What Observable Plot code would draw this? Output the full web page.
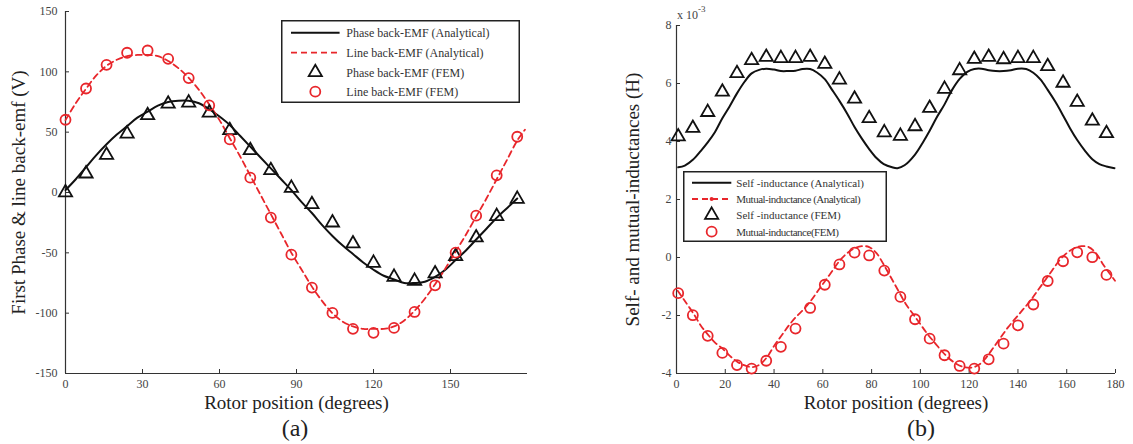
<!DOCTYPE html>
<html>
<head>
<meta charset="utf-8">
<script src="https://cdn.jsdelivr.net/npm/d3@7"></script>
<script src="https://cdn.jsdelivr.net/npm/@observablehq/plot@0.6"></script>
<style>
  html, body { margin: 0; padding: 0; background: #fff; }
  #root { position: relative; width: 1133px; height: 444px; overflow: hidden;
          font-family: "Liberation Serif", "Times New Roman", serif; color: #222; }
  .panel { position: absolute; top: 0; }
  .cap { position: absolute; top: 415px; height: 26px; line-height: 26px; font-size: 24px;
         text-align: center; width: 60px; color: #222; }
  .exp { position: absolute; left: 677px; top: 6px; font-size: 12px; color: #444; }
  .exp sup { font-size: 9px; position: relative; top: -2px; }
  .legend { position: absolute; }
</style>
</head>
<body>
<div id="root"></div>
<script>
// ---------------- Panel (a): back-EMF ----------------
const xTicksA = [0, 30, 60, 90, 120, 150];
const yTicksA = [-150, -100, -50, 0, 50, 100, 150];

const femXA = [0, 8, 16, 24, 32, 40, 48, 56, 64, 72, 80, 88, 96, 104, 112, 120, 128, 136, 144, 152, 160, 168, 176];
const phaseFemA = [0, 15.6, 31, 48.7, 63.9, 73.5, 74.4, 66, 51.5, 34.9, 18.4, 3.7, -9.8, -25, -42.4, -58.4, -70, -73.3, -67.2, -52.9, -37.4, -19.7, -5.4];
const lineFemA = [60.3, 86.2, 105.8, 115.8, 117.7, 110.8, 94.8, 72.2, 44, 12.3, -20.8, -51.5, -78.8, -99.8, -113, -116.3, -112.2, -99, -76.9, -49.8, -19.2, 14.2, 46.2];

const phaseAnaXA = [0, 4, 8, 12, 16, 20, 24, 28, 32, 36, 40, 44, 48, 52, 56, 60, 64, 68, 72, 76, 80, 84, 88, 92, 96, 100, 104, 108, 112, 116, 120, 124, 128, 132, 136, 140, 144, 148, 152, 156, 160, 164, 168, 172, 176];
const phaseAnaA = [2, 11, 21, 31, 40, 48, 55, 62, 67, 72, 75, 76, 76, 74, 69, 63, 56, 47, 38, 29, 20, 11, 2, -8, -17, -27, -36, -44, -51, -58, -64, -69, -72, -75, -75, -74, -70, -64, -56, -48, -39, -30, -21, -13, -5];

const lineAnaXA = [0, 4, 8, 12, 16, 20, 24, 28, 32, 36, 40, 44, 48, 52, 56, 60, 64, 68, 72, 76, 80, 84, 88, 92, 96, 100, 104, 108, 112, 116, 120, 124, 128, 132, 136, 140, 144, 148, 152, 156, 160, 164, 168, 172, 176, 179];
const lineAnaA = [60, 74, 86, 97, 105, 110, 113, 114, 114, 113, 109, 103, 95, 85, 73, 60, 45, 30, 14, -2, -18, -34, -50, -64, -78, -90, -100, -107, -111, -113, -113, -113, -111, -106, -98, -88, -76, -63, -49, -35, -20, -5, 11, 27, 43, 52];

const legendA = ["Phase back-EMF (Analytical)", "Line back-EMF (Analytical)", "Phase back-EMF (FEM)", "Line back-EMF (FEM)"];
const xLabel = "Rotor position (degrees)";
const yLabelA = "First Phase & line back-emf (V)";

// ---------------- Panel (b): inductances (x 10^-3 H) ----------------
const xTicksB = [0, 20, 40, 60, 80, 100, 120, 140, 160, 180];
const yTicksB = [-4, -2, 0, 2, 4, 6, 8];

const femXB = [0.7, 6.7, 12.8, 18.8, 24.8, 30.8, 36.8, 42.8, 48.8, 54.8, 60.8, 66.8, 73.0, 79.0, 85.2, 91.8, 97.8, 103.8, 109.9, 116.1, 122.1, 128.0, 134.1, 140.0, 146.3, 152.2, 158.5, 164.3, 170.5, 176.3];
const selfFemB = [4.17, 4.46, 5.01, 5.71, 6.35, 6.80, 6.91, 6.87, 6.87, 6.91, 6.67, 6.13, 5.47, 4.80, 4.31, 4.19, 4.52, 5.15, 5.81, 6.45, 6.84, 6.91, 6.83, 6.87, 6.87, 6.59, 6.02, 5.36, 4.71, 4.28];
const mutualFemB = [-1.23, -1.99, -2.70, -3.29, -3.71, -3.83, -3.56, -3.08, -2.45, -1.74, -0.94, -0.24, 0.17, 0.07, -0.45, -1.36, -2.13, -2.80, -3.37, -3.74, -3.83, -3.51, -2.97, -2.34, -1.62, -0.81, -0.13, 0.18, 0.01, -0.60];

const selfAnaXB = [0.7, 3.4, 6.7, 10, 12.8, 15.8, 18.8, 21.7, 24.8, 27.9, 30.8, 33.9, 36.8, 40, 42.8, 45.9, 48.8, 51.7, 54.8, 57.6, 60.8, 63.8, 66.8, 70, 73, 76, 79, 82, 85, 88.4, 90.6, 93.5, 97.8, 100.9, 103.8, 106.9, 109.9, 113, 116.1, 119.2, 122.1, 125, 128, 130.9, 134.1, 137.1, 140, 143.4, 146.3, 149.2, 152.2, 155.4, 158.5, 161.4, 164.3, 167.5, 170.5, 173.4, 176.3, 179.6];
const selfAnaB = [3.11, 3.17, 3.37, 3.68, 3.97, 4.33, 4.8, 5.2, 5.66, 6.06, 6.35, 6.47, 6.51, 6.48, 6.43, 6.43, 6.44, 6.5, 6.5, 6.38, 6.15, 5.78, 5.4, 4.96, 4.5, 4.1, 3.74, 3.43, 3.22, 3.11, 3.08, 3.18, 3.55, 3.95, 4.37, 4.86, 5.28, 5.78, 6.16, 6.4, 6.5, 6.51, 6.46, 6.43, 6.43, 6.46, 6.51, 6.5, 6.37, 6.14, 5.78, 5.36, 4.9, 4.45, 4.05, 3.68, 3.39, 3.22, 3.14, 3.08];

const mutualAnaXB = [0.5, 3, 6.7, 10, 12.8, 16, 19, 22, 25, 28, 31, 34, 37, 40, 43, 46, 49, 52, 55, 58, 61, 64, 67, 70, 73, 76, 79, 82, 85, 88, 91, 94, 97, 100, 103, 106, 109, 112, 115, 118, 121, 124, 127, 130, 133, 136, 139, 142, 145, 148, 151, 154, 157, 160, 163, 166, 169, 172, 175, 178, 179.8];
const mutualAnaB = [-1.15, -1.45, -1.9, -2.35, -2.65, -2.95, -3.15, -3.4, -3.6, -3.72, -3.78, -3.7, -3.45, -3.05, -2.7, -2.35, -2.05, -1.8, -1.5, -1.15, -0.8, -0.45, -0.1, 0.15, 0.32, 0.39, 0.36, 0.15, -0.25, -0.7, -1.15, -1.6, -1.95, -2.3, -2.65, -2.95, -3.25, -3.5, -3.68, -3.78, -3.8, -3.7, -3.45, -3.1, -2.75, -2.4, -2.1, -1.8, -1.5, -1.15, -0.8, -0.45, -0.1, 0.15, 0.32, 0.39, 0.36, 0.15, -0.25, -0.6, -0.8];

const legendB = ["Self -inductance (Analytical)", "Mutual-inductance (Analytical)", "Self -inductance (FEM)", "Mutual-inductance(FEM)"];
const yLabelB = "Self- and mutual-inductances (H)";

// ---------------- helpers ----------------
const RED = "#e8262b";
const BLACK = "#111";
const AXIS = "#333";
const FONT = "Liberation Serif, Times New Roman, serif";
const zip = (xs, ys) => xs.map((x, i) => ({x, y: ys[i]}));
const fmt = d => String(d); // plain hyphen-minus, as in the reference

function panel({width, height, mL, mR, mT, mB, xDom, yDom, xTicks, yTicks, yPad, series, yLabel, yLabelDx}) {
  const fw = width - mL - mR, fh = height - mT - mB;
  return Plot.plot({
    width, height, marginLeft: mL, marginRight: mR, marginTop: mT, marginBottom: mB,
    style: {fontFamily: FONT, fontSize: "12px", color: "#444", background: "transparent", overflow: "visible"},
    x: {domain: xDom, label: null},
    y: {domain: yDom, label: null},
    marks: [
      Plot.axisX({ticks: xTicks, tickFormat: fmt, tickSize: 0, tickPadding: 6, label: null, fontSize: 12, fill: "#444"}),
      Plot.axisY({ticks: yTicks, tickFormat: fmt, tickSize: 0, tickPadding: yPad, label: null, fontSize: 12, fill: "#444"}),
      Plot.tickX(xTicks, {x: d => d, insetTop: fh - 4, stroke: AXIS, strokeWidth: 1}),
      Plot.tickY(yTicks, {y: d => d, insetRight: fw - 4, stroke: AXIS, strokeWidth: 1}),
      Plot.ruleX([xDom[0]], {stroke: AXIS, strokeWidth: 1.2}),
      Plot.ruleY([yDom[0]], {stroke: AXIS, strokeWidth: 1.2}),
      Plot.line(series.solid, {x: "x", y: "y", stroke: BLACK, strokeWidth: 2, curve: "catmull-rom"}),
      Plot.line(series.dashed, {x: "x", y: "y", stroke: RED, strokeWidth: 1.8, strokeDasharray: "6,4", curve: "catmull-rom"}),
      Plot.dot(series.tri, {x: "x", y: "y", symbol: "triangle", r: 4.9, stroke: BLACK, strokeWidth: 1.8, fill: "none"}),
      Plot.dot(series.circ, {x: "x", y: "y", symbol: "circle", r: 5, stroke: RED, strokeWidth: 1.8, fill: "none"}),
      Plot.text([yLabel], {text: d => d, frameAnchor: "left", textAnchor: "middle", lineAnchor: "middle",
        rotate: -90, dx: yLabelDx, fontSize: 19, fill: "#222", fontFamily: FONT}),
      Plot.text([xLabel], {text: d => d, frameAnchor: "bottom", textAnchor: "middle", lineAnchor: "middle",
        dy: 29, fontSize: 19, fill: "#222", fontFamily: FONT})
    ]
  });
}

function legend({left, top, w, h, rows, fontSize, sampleX0, sampleX1, textX, letterSpacing, labels}) {
  const svg = d3.create("svg").attr("width", w).attr("height", h).attr("class", "legend")
    .style("left", left + "px").style("top", top + "px");
  svg.append("rect").attr("x", 0.75).attr("y", 0.75).attr("width", w - 1.5).attr("height", h - 1.5)
    .attr("fill", "#fff").attr("stroke", "#222").attr("stroke-width", 1.5);
  const mid = (sampleX0 + sampleX1) / 2;
  const tri = d3.symbol(d3.symbolTriangle, Math.PI * 4.9 * 4.9)();
  labels.forEach((lab, i) => {
    const y = rows[i];
    if (i === 0) svg.append("line").attr("x1", sampleX0).attr("x2", sampleX1).attr("y1", y).attr("y2", y)
      .attr("stroke", BLACK).attr("stroke-width", 2);
    if (i === 1) {
      svg.append("line").attr("x1", sampleX0).attr("x2", sampleX1).attr("y1", y).attr("y2", y)
        .attr("stroke", RED).attr("stroke-width", 1.8).attr("stroke-dasharray", "6,4");
      if (letterSpacing) svg.append("circle").attr("cx", mid).attr("cy", y).attr("r", 2).attr("fill", RED);
    }
    if (i === 2) svg.append("path").attr("d", tri).attr("transform", `translate(${mid},${y})`)
      .attr("fill", "none").attr("stroke", BLACK).attr("stroke-width", 1.8);
    if (i === 3) svg.append("circle").attr("cx", mid).attr("cy", y).attr("r", 5)
      .attr("fill", "none").attr("stroke", RED).attr("stroke-width", 1.8);
    const t = svg.append("text").attr("x", textX).attr("y", y).attr("dy", "0.35em")
      .attr("font-family", FONT).attr("font-size", fontSize).attr("fill", "#333").text(lab);
    if (letterSpacing && (i === 1 || i === 3)) t.attr("letter-spacing", letterSpacing);
  });
  return svg.node();
}

const root = document.getElementById("root");

const A = panel({
  width: 560, height: 415, mL: 65, mR: 33, mT: 11, mB: 42,
  xDom: [0, 180], yDom: [-150, 150], xTicks: xTicksA, yTicks: yTicksA, yPad: 8,
  series: {
    solid: zip(phaseAnaXA, phaseAnaA),
    dashed: zip(lineAnaXA, lineAnaA),
    tri: zip(femXA, phaseFemA),
    circ: zip(femXA, lineFemA)
  },
  yLabel: yLabelA, yLabelDx: -47
});
A.classList.add("panel"); A.style.left = "0px"; A.style.position = "absolute";
root.appendChild(A);

const B = panel({
  width: 573, height: 415, mL: 116, mR: 18, mT: 25, mB: 42,
  xDom: [0, 180], yDom: [-4, 8], xTicks: xTicksB, yTicks: yTicksB, yPad: 5,
  series: {
    solid: zip(selfAnaXB, selfAnaB),
    dashed: zip(mutualAnaXB, mutualAnaB),
    tri: zip(femXB, selfFemB),
    circ: zip(femXB, mutualFemB)
  },
  yLabel: yLabelB, yLabelDx: -43.5
});
B.classList.add("panel"); B.style.left = "560px"; B.style.position = "absolute";
root.appendChild(B);

root.appendChild(legend({left: 281, top: 20, w: 239, h: 83, rows: [12.7, 32.7, 52.3, 71.7],
  fontSize: 12, sampleX0: 10, sampleX1: 58.6, textX: 65.3, letterSpacing: null, labels: legendA}));
root.appendChild(legend({left: 683, top: 171, w: 204, h: 71, rows: [11.7, 28, 44, 60.7],
  fontSize: 11, sampleX0: 9, sampleX1: 48.3, textX: 53.3, letterSpacing: "-0.5px", labels: legendB}));

const exp = document.createElement("div");
exp.className = "exp"; exp.innerHTML = "x 10<sup>-3</sup>";
root.appendChild(exp);

const capA = document.createElement("div");
capA.className = "cap"; capA.style.left = (295 - 30) + "px"; capA.textContent = "(a)";
root.appendChild(capA);
const capB = document.createElement("div");
capB.className = "cap"; capB.style.left = (921 - 30) + "px"; capB.textContent = "(b)";
root.appendChild(capB);
</script>
</body>
</html>
